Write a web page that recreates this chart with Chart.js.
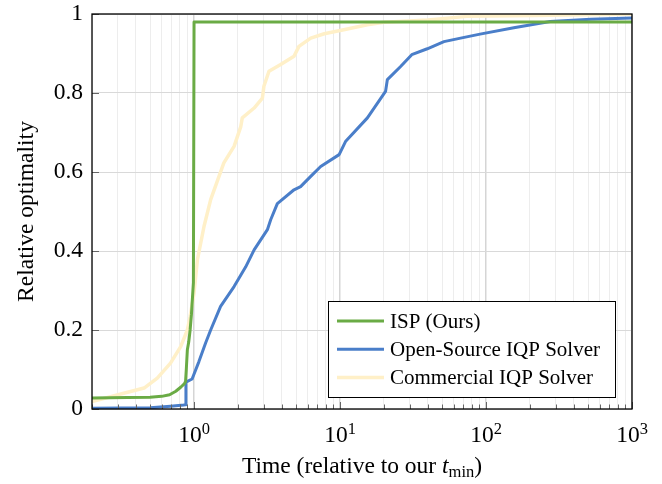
<!DOCTYPE html>
<html>
<head>
<meta charset="utf-8">
<script src="https://cdn.jsdelivr.net/npm/chart.js@4.4.1/dist/chart.umd.min.js"></script>
<style>
  html, body { margin: 0; padding: 0; background: #fff; }
</style>
</head>
<body>
<canvas id="chart" width="662" height="484"></canvas>
<script>
// series: time relative to t_min (x) and relative optimality (y)
const ispTime = [0.2, 0.35, 0.5, 0.6, 0.68, 0.75, 0.81, 0.86, 0.875, 0.885, 0.9, 0.92, 0.94, 0.96, 0.99, 1, 1000];
const ispOpt  = [0.028, 0.029, 0.03, 0.032, 0.036, 0.045, 0.055, 0.064, 0.07, 0.1, 0.15, 0.17, 0.2, 0.24, 0.32, 0.98, 0.98];

const ossTime = [0.2, 0.5, 0.69, 0.85, 0.875, 0.88, 0.97, 1.08, 1.2, 1.3, 1.52, 1.88, 2.26, 2.58, 3.18, 3.35, 3.72, 4.84, 5.37, 6.3, 7.37, 9.86, 10.9, 15.4, 20.5, 21.1, 26, 31, 39.6, 51.5, 67, 91, 155, 275, 522, 1000];
const ossOpt  = [0.002, 0.003, 0.007, 0.01, 0.011, 0.068, 0.076, 0.12, 0.167, 0.2, 0.26, 0.31, 0.36, 0.403, 0.454, 0.479, 0.52, 0.555, 0.563, 0.589, 0.614, 0.644, 0.677, 0.737, 0.804, 0.834, 0.867, 0.897, 0.912, 0.93, 0.939, 0.949, 0.965, 0.981, 0.987, 0.99];

const comTime = [0.2, 0.33, 0.455, 0.56, 0.69, 0.81, 0.9, 0.94, 1.0, 1.055, 1.17, 1.3, 1.6, 1.88, 2.09, 2.14, 2.58, 2.94, 3.01, 3.26, 3.92, 4.84, 5.23, 6.3, 7.8, 10.6, 15.4, 20, 40, 74, 213, 1000];
const comOpt  = [0.019, 0.04, 0.053, 0.078, 0.116, 0.158, 0.2, 0.234, 0.294, 0.378, 0.462, 0.53, 0.623, 0.665, 0.715, 0.737, 0.762, 0.787, 0.817, 0.855, 0.872, 0.893, 0.918, 0.939, 0.95, 0.96, 0.973, 0.979, 0.985, 0.994, 0.996, 1.0];

const seriesNames = ['ISP (Ours)', 'Open-Source IQP Solver', 'Commercial IQP Solver'];
const seriesColors = ['#6aab45', '#4a7ec9', '#fff0c8'];

const xExponents = [0, 1, 2, 3];          // major ticks 10^e
const xMin = 0.2, xMax = 1000;
const yTicks = [0, 0.2, 0.4, 0.6, 0.8, 1];

const FONT = '"Liberation Serif", "Times New Roman", serif';
const BIG = '23.5px ' + FONT;
const SMALL = '16.5px ' + FONT;

function pts(xs, ys) {
  return xs.map((x, i) => ({ x: x, y: ys[i] }));
}

// major + minor tick values for the log axis
function logTicks() {
  const out = [];
  for (let e = -1; e <= 3; e++) {
    for (let m = 1; m <= 9; m++) {
      const v = +(m * Math.pow(10, e)).toPrecision(3);
      if (v >= xMin && v <= xMax) out.push({ value: v, major: m === 1 });
    }
  }
  return out;
}

const decor = {
  id: 'decor',
  afterDatasetsDraw(chart) {
    const { ctx, chartArea: a, scales } = chart;
    const xs = scales.x, ys = scales.y;
    ctx.save();

    // inner tick marks
    ctx.strokeStyle = '#666';
    ctx.lineWidth = 1;
    xs.ticks.forEach(t => {
      const px = Math.round(xs.getPixelForValue(t.value)) + 0.5;
      const len = t.major ? 7 : 4.5;
      ctx.beginPath();
      ctx.moveTo(px, a.bottom);
      ctx.lineTo(px, a.bottom - len);
      ctx.stroke();
    });
    yTicks.forEach(v => {
      const py = Math.round(ys.getPixelForValue(v)) + 0.5;
      ctx.beginPath();
      ctx.moveTo(a.left, py);
      ctx.lineTo(a.left + 7, py);
      ctx.stroke();
    });

    // axis box
    ctx.strokeStyle = '#000';
    ctx.lineWidth = 1.3;
    ctx.strokeRect(a.left, a.top, a.right - a.left, a.bottom - a.top);

    // x tick labels 10^e
    ctx.fillStyle = '#000';
    ctx.textBaseline = 'alphabetic';
    ctx.textAlign = 'left';
    xExponents.forEach(e => {
      const px = xs.getPixelForValue(Math.pow(10, e));
      ctx.font = BIG;
      const w1 = ctx.measureText('10').width;
      ctx.font = SMALL;
      const w2 = ctx.measureText(String(e)).width;
      const x0 = px - (w1 + w2) / 2;
      ctx.font = BIG;
      ctx.fillText('10', x0, 442);
      ctx.font = SMALL;
      ctx.fillText(String(e), x0 + w1, 433.5);
    });

    // x axis title
    const parts = [
      { s: 'Time (relative to our ', f: BIG, dy: 0 },
      { s: 't', f: 'italic ' + BIG, dy: 0 },
      { s: 'min', f: SMALL, dy: 4 },
      { s: ')', f: BIG, dy: 0 }
    ];
    let total = 0;
    parts.forEach(p => { ctx.font = p.f; p.w = ctx.measureText(p.s).width; total += p.w; });
    let cx = (a.left + a.right) / 2 - total / 2;
    parts.forEach(p => {
      ctx.font = p.f;
      ctx.fillText(p.s, cx, 473 + p.dy);
      cx += p.w;
    });

    // y axis title
    ctx.save();
    ctx.translate(33, (a.top + a.bottom) / 2);
    ctx.rotate(-Math.PI / 2);
    ctx.textAlign = 'center';
    ctx.font = BIG;
    ctx.fillText('Relative optimality', 0, 0);
    ctx.restore();

    // legend box
    const bx = a.left + 236, by = a.top + 287, bw = 287, bh = 96;
    ctx.fillStyle = '#fff';
    ctx.fillRect(bx, by, bw, bh);
    ctx.strokeStyle = '#000';
    ctx.lineWidth = 1;
    ctx.strokeRect(bx + 0.5, by + 0.5, bw, bh);
    chart.data.datasets.forEach((ds, i) => {
      const ry = by + 20 + i * 28.3;
      ctx.strokeStyle = ds.borderColor;
      ctx.lineWidth = ds.borderWidth;
      ctx.beginPath();
      ctx.moveTo(bx + 9, ry);
      ctx.lineTo(bx + 56, ry);
      ctx.stroke();
      ctx.fillStyle = '#000';
      ctx.font = '21px ' + FONT;
      ctx.textAlign = 'left';
      ctx.fillText(ds.label, bx + 62, ry + 6.5);
    });

    ctx.restore();
  }
};

new Chart(document.getElementById('chart'), {
  type: 'line',
  data: {
    datasets: [
      { label: seriesNames[0], data: pts(ispTime, ispOpt), borderColor: seriesColors[0], borderWidth: 3, order: 1 },
      { label: seriesNames[1], data: pts(ossTime, ossOpt), borderColor: seriesColors[1], borderWidth: 3, order: 2 },
      { label: seriesNames[2], data: pts(comTime, comOpt), borderColor: seriesColors[2], borderWidth: 3.5, order: 3 }
    ]
  },
  options: {
    responsive: false,
    animation: false,
    layout: { padding: { left: 0, top: 14, right: 30, bottom: 0 } },
    elements: {
      point: { radius: 0 },
      line: { tension: 0, fill: false, borderJoinStyle: 'round', borderCapStyle: 'butt' }
    },
    plugins: {
      legend: { display: false },
      tooltip: { enabled: false }
    },
    scales: {
      x: {
        type: 'logarithmic',
        min: xMin,
        max: xMax,
        afterBuildTicks: (s) => { s.ticks = logTicks(); },
        afterFit: (s) => { s.height = 75; s.paddingLeft = 0; s.paddingRight = 0; },
        ticks: { display: false },
        border: { display: false },
        grid: {
          drawTicks: false,
          color: (c) => (c.tick && c.tick.major) ? '#d5d5d5' : '#ededed',
          lineWidth: (c) => (c.tick && c.tick.major) ? 1.5 : 1
        }
      },
      y: {
        min: 0,
        max: 1,
        afterBuildTicks: (s) => { s.ticks = yTicks.map(v => ({ value: v })); },
        afterFit: (s) => { s.width = 92; s.paddingTop = 0; s.paddingBottom = 0; },
        ticks: {
          padding: 9,
          color: '#000',
          font: { family: FONT, size: 23.5 },
          callback: (v) => (v === 0 || v === 1) ? String(v) : v.toFixed(1)
        },
        border: { display: false },
        grid: { drawTicks: false, color: '#d9d9d9', lineWidth: 1 }
      }
    }
  },
  plugins: [decor]
});
</script>
</body>
</html>
